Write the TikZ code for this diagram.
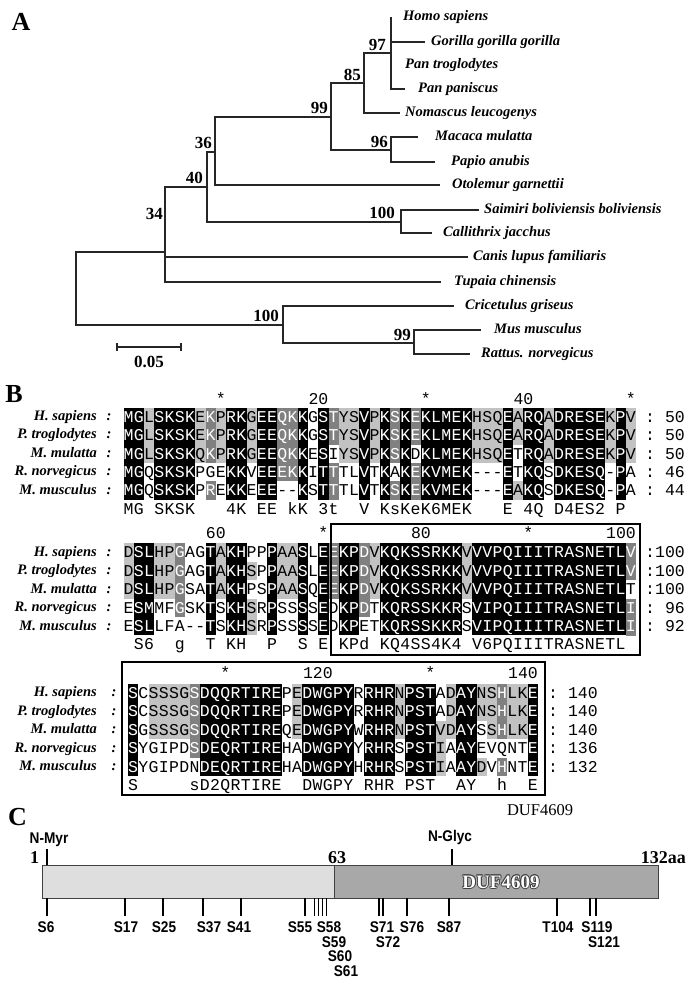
\documentclass[tikz,border=0pt]{standalone}
\usepackage{fontspec}
\setmainfont{Liberation Serif}
\setsansfont{Liberation Sans}
\setmonofont{Liberation Mono}
\newfontfamily\narrowsans[FakeStretch=0.88]{Liberation Sans}
\usepackage{xstring}

\definecolor{shdark}{gray}{0.5}
\definecolor{shlight}{gray}{0.76}
\definecolor{barlight}{gray}{0.87}
\definecolor{bardark}{gray}{0.66}

\tikzset{
  branch/.style={draw=black!85, line width=1.1pt},
  taxon/.style={anchor=west, inner sep=0pt, text height=10.5pt, text depth=3pt, font=\fontsize{14.5}{16}\selectfont\bfseries\itshape},
  boot/.style={anchor=south east, inner sep=0pt, font=\fontsize{17}{18}\selectfont\bfseries},
  panel/.style={inner sep=0pt, font=\fontsize{26}{28}\selectfont\bfseries},
  seqname/.style={anchor=east, inner sep=0pt, text height=10pt, text depth=3pt, font=\fontsize{14.5}{16}\selectfont\bfseries\itshape},
  rescell/.style={inner sep=0pt, outer sep=0pt, minimum width=10.25pt, minimum height=18.5pt, text height=10.5pt, text depth=0pt, font=\fontsize{16.5}{18}\ttfamily},
  monotext/.style={inner sep=0pt, text height=10.5pt, text depth=0pt, font=\fontsize{16.5}{18}\ttfamily},
  alnbox/.style={draw=black, line width=1.4pt},
  site/.style={draw=black, line width=1.5pt},
  sitelab/.style={inner sep=0pt, text height=11pt, text depth=0pt, font=\fontsize{15.5}{16}\narrowsans\bfseries},
  endlab/.style={inner sep=0pt, font=\fontsize{18}{19}\selectfont\bfseries},
  duftxt/.style={inner sep=0pt, font=\fontsize{19}{20}\selectfont\bfseries}
}

\def\hsA{MGLSKSKEKPRKGEEQKKGSTYSVPKSKEKLMEKHSQEARQADRESEKPV}
\def\ptA{MGLSKSKEKPRKGEEQKKGSTYSVPKSKEKLMEKHSQEARQADRESEKPV}
\def\mmA{MGLSKSKQKPRKGEEQKKESIYSVPKSKDKLMEKHSQETRQADRESEKPV}
\def\rnA{MGQSKSKPGEKKVEEEKKITTTLVTKAKEKVMEK---ETKQSDKESQ-PA}
\def\muA{MGQSKSKPREKKEEE--KSTTTLVTKSKEKVMEK---EAKQSDKESQ-PA}
\def\csA{MG.SKSK...4K.EE.kK.3t..V.KsKeK6MEK...E.4Q.D4ES2.P}

\def\hsB{DSLHPGAGTAKHPPPAASLEEKPDVKQKSSRKKVVVPQIIITRASNETLV}
\def\ptB{DSLHPGAGTAKHSPPAASLEEKPDVKQKSSRKKVVVPQIIITRASNETLV}
\def\mmB{DSLHPGSATAKHPSPAASQEEKPDVKQKSSRKKVVVPQIIITRASNETLT}
\def\rnB{ESMMFGSKTSKHSRPSSSSEDKPDTKQRSSKKRSVIPQIIITRASNETLI}
\def\muB{ESLLFA--TSKHSRPSSSSEDKPETKQRSSKKRSVIPQIIITRASNETLI}
\def\csB{.S6..g..T.KH..P..S.E.KPd.KQ4SS4K4.V6PQIIITRASNETL}

\def\hsC{SCSSSGSDQQRTIREPEDWGPYRRHRNPSTADAYNSHLKE}
\def\ptC{SCSSSGSDQQRTIREPEDWGPYRRHRNPSTADAYNSHLKE}
\def\mmC{SGSSSGSDQQRTIREQEDWGPYWRHRNPSTVDAYSSHLKE}
\def\rnC{SYGIPDSDEQRTIREHADWGPYYRHRSPSTIAAYEVQNTE}
\def\muC{SYGIPDNDEQRTIREHADWGPYHRHRSPSTIAAYDVHNTE}
\def\csC{S.....sD2QRTIRE..DWGPY.RHR.PST..AY..h..E}

\def\shAa{kklkkkkldlkklkkddkwkdllklkdkdkkkkklllklkklkkkkklkl}
\def\shAc{kklkkkkldlkklkkddkwkwllklkdkwkkkkklllkwkklkkkkklkl}
\def\shAd{kkwkkkkwwwkkwkkddkwkdwwkwkwkdkkkkkwwwkwkkwkkkkkwkw}
\def\shAe{kkwkkkkwdwkkwkkwwkwkdwwkwkdkdkkkkkwwwklkkwkkkkkwkw}

\def\shBa{lkklldwwklkkwwkllkwkdkkdlkkkkkkkklkkkkkkkkkkkkkkkd}
\def\shBb{lkklldwwklkklwkllkwkdkkdlkkkkkkkklkkkkkkkkkkkkkkkd}
\def\shBc{lkklldwwklkkwwkllkwkdkkdlkkkkkkkklkkkkkkkkkkkkkkkw}
\def\shBd{wkkwwdwwkwkklwkwwkwkwkkdwkkkkkkkkwkkkkkkkkkkkkkkkd}
\def\shBe{wkkwwwwwkwkklwkwwkwkwkkwwkkkkkkkkwkkkkkkkkkkkkkkkd}

\def\shCa{kwlllldkkkkkkkkwlkkkkkwkkklkkkwlkklldllk}
\def\shCc{kwlllldkkkkkkkkwlkkkkkwkkklkkkllkkwldllk}
\def\shCd{kwwwwwdkkkkkkkkwwkkkkkwkkkwkkklwkkwwwwwk}
\def\shCe{kwwwwwwkkkkkkkkwwkkkkkwkkkwkkklwkklwdwwk}

\newcommand\alnrow[5]{%
  \StrLen{#3}[\alnlen]%
  \foreach \ci in {1,...,\alnlen}{%
    \StrChar{#3}{\ci}[\alnres]%
    \StrChar{#4}{\ci}[\alnshd]%
    \def\alnfill{white}\def\alntext{black}%
    \IfStrEq{\alnshd}{k}{\def\alnfill{black}\def\alntext{white}}{}%
    \IfStrEq{\alnshd}{d}{\def\alnfill{shdark}\def\alntext{white}}{}%
    \IfStrEq{\alnshd}{l}{\def\alnfill{shlight}}{}%
    \IfStrEq{\alnres}{.}{\def\alnres{}}{}%
    \node[rescell, fill=\alnfill, text=\alntext] (#5-\ci) at ({#1+(\ci-0.5)*10.25},#2) {\alnres};
  }%
}

\begin{document}
\begin{tikzpicture}[x=1pt,y=-1pt]

  \path[fill=white] (0,0) rectangle (695,985);
  \useasboundingbox (0,0) rectangle (695,985);

  \node[panel] (pA) at (21,21.5) {A};
  \node[panel] (pB) at (14,394) {B};
  \node[panel] (pC) at (17.5,817) {C};

  % tree
  \coordinate (root)  at (76,288);
  \coordinate (n34)   at (165,252);
  \coordinate (n40)   at (207,187);
  \coordinate (n36)   at (215,152);
  \coordinate (n99)   at (331,117);
  \coordinate (n85)   at (364,83);
  \coordinate (n97)   at (391,53);
  \coordinate (n96)   at (391,150);
  \coordinate (n100a) at (401,222);
  \coordinate (n100b) at (283,325);
  \coordinate (n99b)  at (414,343);

  \coordinate (hsapE) at (391,17);
  \coordinate (ggorE) at (425,42);
  \coordinate (ptroE) at (392,65);
  \coordinate (ppanE) at (405,89);
  \coordinate (nleuE) at (400,113);
  \coordinate (mmulE) at (418,137);
  \coordinate (panuE) at (435,162);
  \coordinate (ogarE) at (440,185);
  \coordinate (sbolE) at (479,210);
  \coordinate (cjacE) at (432,233);
  \coordinate (clupE) at (468,257);
  \coordinate (tchiE) at (441,282);
  \coordinate (cgriE) at (454,306);
  \coordinate (mmusE) at (481,330);
  \coordinate (rnorE) at (470,354);

  \draw[branch] (root) |- (n34) (root) |- (n100b);
  \draw[branch] (n34) |- (n40) (n34) |- (clupE) (n34) |- (tchiE);
  \draw[branch] (n40) |- (n36) (n40) |- (n100a);
  \draw[branch] (n36) |- (n99) (n36) |- (ogarE);
  \draw[branch] (n99) |- (n85) (n99) |- (n96);
  \draw[branch] (n85) |- (n97) (n85) |- (nleuE);
  \draw[branch] (n97) |- (hsapE) (n97) |- (ggorE) (n97) |- (ptroE) (n97) |- (ppanE);
  \draw[branch] (n96) |- (mmulE) (n96) |- (panuE);
  \draw[branch] (n100a) |- (sbolE) (n100a) |- (cjacE);
  \draw[branch] (n100b) |- (cgriE) (n100b) |- (n99b);
  \draw[branch] (n99b) |- (mmusE) (n99b) |- (rnorE);

  \begin{scope}[every node/.style={taxon}]
    \node (hsap) at (403,17)  {Homo sapiens};
    \node (ggor) at (431,42)  {Gorilla gorilla gorilla};
    \node (ptro) at (405,65)  {Pan troglodytes};
    \node (ppan) at (418,89)  {Pan paniscus};
    \node (nleu) at (405,113) {Nomascus leucogenys};
    \node (mmul) at (435,137) {Macaca mulatta};
    \node (panu) at (451,162) {Papio anubis};
    \node (ogar) at (452,185) {Otolemur garnettii};
    \node (sbol) at (484,210) {Saimiri boliviensis boliviensis};
    \node (cjac) at (443,233) {Callithrix jacchus};
    \node (clup) at (473,257) {Canis lupus familiaris};
    \node (tchi) at (454,282) {Tupaia chinensis};
    \node (cgri) at (465,306) {Cricetulus griseus};
    \node (mmus) at (494,330) {Mus musculus};
    \node (rnor) at (481,354) {Rattus. norvegicus};
  \end{scope}

  \begin{scope}[every node/.style={boot}]
    \node (b97)  at (386,51)  {97};
    \node (b85)  at (361,81)  {85};
    \node (b99)  at (328,114) {99};
    \node (b96)  at (388,148) {96};
    \node (b36)  at (212,149) {36};
    \node (b40)  at (203,184) {40};
    \node (b34)  at (163,220) {34};
    \node (b100a) at (395,219) {100};
    \node (b100b) at (279,322) {100};
    \node (b99b) at (411,341) {99};
  \end{scope}

  \coordinate (sbL) at (117,347);
  \coordinate (sbR) at (181,347);
  \draw[branch] (sbL) -- (sbR);
  \draw[branch] ([yshift=4pt]sbL) -- ([yshift=-4pt]sbL);
  \draw[branch] ([yshift=4pt]sbR) -- ([yshift=-4pt]sbR);
  \node[boot, anchor=center] (sbtxt) at (149,362) {0.05};

  % alignment
  \foreach \y/\nm in {417/H. sapiens, 435.4/P. troglodytes, 453.8/M. mulatta, 472.2/R. norvegicus, 490.6/M. musculus,
                      552.5/H. sapiens, 571/P. troglodytes, 589.5/M. mulatta, 608/R. norvegicus, 626.5/M. musculus}{
    \node[seqname] at (97,\y) {\nm};
    \node[seqname, anchor=center] at (109,\y) {:};
  }
  \foreach \y/\nm in {693/H. sapiens, 711.5/P. troglodytes, 730/M. mulatta, 748.5/R. norvegicus, 767/M. musculus}{
    \node[seqname] at (97,\y) {\nm};
    \node[seqname, anchor=center] at (114,\y) {:};
  }

  \alnrow{123.5}{417}{\hsA}{\shAa}{a1}
  \alnrow{123.5}{435.4}{\ptA}{\shAa}{a2}
  \alnrow{123.5}{453.8}{\mmA}{\shAc}{a3}
  \alnrow{123.5}{472.2}{\rnA}{\shAd}{a4}
  \alnrow{123.5}{490.6}{\muA}{\shAe}{a5}
  \alnrow{123.5}{509}{\csA}{}{a6}

  \alnrow{123.5}{552.5}{\hsB}{\shBa}{b1}
  \alnrow{123.5}{571}{\ptB}{\shBb}{b2}
  \alnrow{123.5}{589.5}{\mmB}{\shBc}{b3}
  \alnrow{123.5}{608}{\rnB}{\shBd}{b4}
  \alnrow{123.5}{626.5}{\muB}{\shBe}{b5}
  \alnrow{123.5}{644.5}{\csB}{}{b6}

  \alnrow{128}{693}{\hsC}{\shCa}{c1}
  \alnrow{128}{711.5}{\ptC}{\shCa}{c2}
  \alnrow{128}{730}{\mmC}{\shCc}{c3}
  \alnrow{128}{748.5}{\rnC}{\shCd}{c4}
  \alnrow{128}{767}{\muC}{\shCe}{c5}
  \alnrow{128}{785.5}{\csC}{}{c6}

  \begin{scope}[every node/.style={monotext}]
    \node at ({123.5+9.5*10.25},399) {*};
    \node[anchor=east] at ({123.5+20*10.25},399) {20};
    \node at ({123.5+29.5*10.25},399) {*};
    \node[anchor=east] at ({123.5+40*10.25},399) {40};
    \node at ({123.5+49.5*10.25},399) {*};

    \node[anchor=east] at ({123.5+10*10.25},533) {60};
    \node at ({123.5+19.5*10.25},533) {*};
    \node[anchor=east] at ({123.5+30*10.25},533) {80};
    \node at ({123.5+39.5*10.25},533) {*};
    \node[anchor=east] at ({123.5+50*10.25},533) {100};

    \node at ({128+9.5*10.25},673) {*};
    \node[anchor=east] at ({128+20*10.25},673) {120};
    \node at ({128+29.5*10.25},673) {*};
    \node[anchor=east] at ({128+40*10.25},673) {140};
  \end{scope}

  \begin{scope}[every node/.style={monotext, anchor=west}]
    \node at (645,417)   {: 50};
    \node at (645,435.4) {: 50};
    \node at (645,453.8) {: 50};
    \node at (645,472.2) {: 46};
    \node at (645,490.6) {: 44};
    \node at (645,552.5) {:100};
    \node at (645,571)   {:100};
    \node at (645,589.5) {:100};
    \node at (645,608)   {: 96};
    \node at (645,626.5) {: 92};
    \node at (548,693)   {: 140};
    \node at (548,711.5) {: 140};
    \node at (548,730)   {: 140};
    \node at (548,748.5) {: 136};
    \node at (548,767)   {: 132};
  \end{scope}

  \draw[alnbox] (331,524) rectangle (640,655);
  \draw[alnbox] (122,662) rectangle (545,795);
  \node[inner sep=0pt, font=\fontsize{16.5}{18}\selectfont] (dufnote) at (540,810) {DUF4609};

  % protein map
  \node[draw=black!75, fill=barlight, line width=0.6pt, inner sep=0pt, minimum width=292pt, minimum height=33pt, anchor=north west] (nterm) at (42,865) {};
  \node[draw=black!75, fill=bardark, line width=0.6pt, inner sep=0pt, minimum width=324pt, minimum height=33pt, anchor=north west] (duf) at (334,865) {};
  \foreach \dx/\dy in {0.8/0, -0.8/0, 0/0.8, 0/-0.8, 0.6/0.6, -0.6/0.6, 0.6/-0.6, -0.6/-0.6}{
    \node[duftxt, text=black!75] at ([xshift=\dx pt, yshift=\dy pt]501,882) {DUF4609};
  }
  \node[duftxt, text=white] (duflab) at (501,882) {DUF4609};

  \node[endlab, anchor=south] (aa1) at (34.5,864) {1};
  \node[endlab, anchor=south] (aa63) at (337,864) {63};
  \node[endlab, anchor=south east] (aa132) at (686,864) {132aa};

  \node[sitelab] (nmyr) at (49,838) {N-Myr};
  \node[sitelab] (nglyc) at (450,836) {N-Glyc};
  \draw[site] (47,849) -- (47,865);
  \draw[site] (452,849) -- (452,865);

  \foreach \tx/\lx/\ly/\lab in {47/46/927/S6, 125/126/927/S17, 163/164/927/S25, 203/209/927/S37, 241/239/927/S41,
      305/300/927/S55, 314.5/329/927/S58, 318.5/334/941.5/S59, 322.5/340/956/S60, 326.5/346/970.5/S61,
      379/382/927/S71, 383/388/941.5/S72, 407/412/927/S76, 449/449/927/S87, 557/558/927/T104,
      590/597/927/S119, 596/604/941.5/S121}{
    \draw[site] (\tx,898) -- (\tx,916);
    \node[sitelab] at (\lx,\ly) {\lab};
  }

\end{tikzpicture}
\end{document}
